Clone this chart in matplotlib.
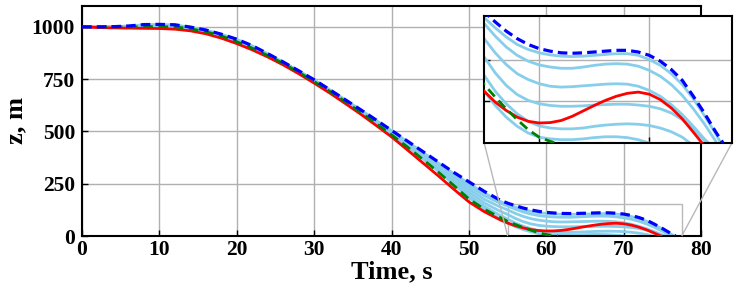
import numpy as np
import matplotlib
matplotlib.use("Agg")
import matplotlib.pyplot as plt
from mpl_toolkits.axes_grid1.inset_locator import mark_inset

plt.rcParams['font.family'] = ['Liberation Serif', 'DejaVu Serif']
plt.rcParams['font.weight'] = 'bold'

# ---- data -------------------------------------------------------------
T_MAIN = [0, 2, 4, 6, 8, 10, 12, 14, 16, 18, 20, 22, 24, 26, 28, 30,
          32, 34, 36, 38, 40, 42, 44, 46, 48, 50, 52, 54]
T_TAIL = [55, 56, 57, 58, 59, 60, 61, 62, 63, 64, 65, 66, 67, 68, 69, 70,
          71, 72, 73, 74, 75, 76]

# upper bound (blue dashed)
upper_main = [1000, 1000, 1001, 1004, 1011, 1012, 1010, 999, 985, 965, 941, 910,
              872, 832, 790, 747, 700, 652, 604, 555, 505, 455, 405, 355, 305,
              259, 213, 172]
upper_tail = [157, 145, 134, 125, 118, 113, 110, 108, 107.5, 108, 109, 110, 111,
              111, 109, 105, 98, 88, 75, 56, 36, 14]
upper_end = 76.7

# lower reference (green dashed)
green_main = [1000, 1000, 1000, 1000, 1001, 1001, 1000, 991, 977, 957, 929, 898,
              863, 825, 783, 738, 692, 643, 592, 539, 484, 427, 368, 307, 243,
              177, 128, 89]
green_tail = [70, 55, 41, 28, 16, 7, 2]
green_end = 61.5

# red solid
red_main = [1000, 997, 995, 994, 993, 992, 989, 981, 967, 946, 920, 890, 856,
            818, 776, 731, 684, 634, 583, 529, 474, 413, 351, 289, 225, 163,
            116, 78]
red_tail = [62, 49, 39, 31, 26, 24, 24.5, 27, 32, 38.5, 45, 51, 56, 59.5, 61,
            58.5, 52, 42, 29, 13]
red_end = 74.8

# light blue family (top to bottom)
lb_main = [
    [1000, 1000, 1001, 1004, 1010, 1011, 1009, 998, 984, 964, 940, 909, 871, 831,
     789, 746, 699, 651, 603, 553, 503, 452, 401, 350, 299, 251, 205, 166],
    [1000, 1000, 1001, 1003, 1008, 1009, 1008, 997, 983, 963, 938, 907, 870, 830,
     788, 745, 698, 650, 601, 551, 500, 448, 396, 343, 290, 239, 192, 158],
    [1000, 1000, 1001, 1002, 1007, 1007, 1006, 996, 982, 962, 936, 905, 868, 829,
     787, 743, 697, 648, 599, 548, 496, 443, 389, 335, 279, 225, 175, 140],
    [1000, 1000, 1000, 1002, 1005, 1005, 1004, 994, 980, 960, 934, 903, 867, 828,
     786, 742, 695, 647, 597, 545, 492, 438, 383, 326, 268, 210, 158, 119],
    [1000, 1000, 1000, 1001, 1003, 1003, 1002, 993, 979, 959, 932, 901, 865, 827,
     785, 740, 694, 645, 595, 543, 489, 433, 376, 318, 257, 195, 142, 99],
    [1000, 1000, 1000, 1000, 1002, 1002, 1001, 992, 978, 958, 930, 899, 864, 826,
     784, 739, 693, 644, 593, 540, 486, 429, 371, 311, 248, 184, 130, 82],
]
lb_tail = [
    [150, 138, 127, 118, 112, 108, 105.5, 104, 103.5, 104, 105, 106, 107, 107,
     105, 100, 93, 83, 70, 53, 33, 12],
    [143, 128, 115, 105, 98, 93.5, 91, 89.5, 89.5, 91, 93, 94.5, 95, 94.5, 92,
     87, 80, 70, 57, 41, 23, 3],
    [125, 108, 94, 83, 76, 71, 68, 67, 67.5, 68.5, 69.5, 70.5, 71, 70.5, 68,
     63, 56, 46, 34, 20, 5],
    [103, 84, 69, 58, 51, 47, 45, 44, 44, 44.5, 45.5, 46, 46.5, 46.5, 45.5, 44,
     41, 36, 28, 17, 3],
    [81, 62, 47, 35, 26, 20.5, 18, 17, 17, 18, 20, 21.5, 22.5, 23, 22.5, 21,
     18, 13.5, 7],
    [62, 45, 31, 20, 12, 7, 5, 4, 4, 5, 6.5, 7.5, 7.5, 6.5, 4],
]
lb_end = [76.5, 76.1, 75.4, 75.15, 73.7, 70.0]

X_TICKS = [0, 10, 20, 30, 40, 50, 60, 70, 80]
Y_TICKS = [0, 250, 500, 750, 1000]


def series(zmain, ztail, tend):
    t = T_MAIN + T_TAIL[:len(ztail)] + [tend]
    z = zmain + ztail + [0]
    return t, z


fig = plt.figure(figsize=(7.37, 2.98), dpi=100)
ax = fig.add_axes([0.1113, 0.208, 0.8400, 0.772])
axins = fig.add_axes([0.657, 0.520, 0.336, 0.426])

LB = '#87CEEB'


def draw(a):
    for zm, zt, te in zip(lb_main, lb_tail, lb_end):
        t, z = series(zm, zt, te)
        a.plot(t, z, color=LB, lw=2.0, zorder=2)
    t, z = series(red_main, red_tail, red_end)
    a.plot(t, z, color='red', lw=2.0, zorder=3)
    t, z = series(green_main, green_tail, green_end)
    a.plot(t, z, color='green', lw=2.0, ls=(0, (3.5, 2.0)), zorder=4)
    t, z = series(upper_main, upper_tail, upper_end)
    a.plot(t, z, color='blue', lw=2.3, ls=(0, (3.0, 1.6)), zorder=5)


draw(ax)
ax.set_xlim(0, 80)
ax.set_ylim(0, 1100)
ax.set_xticks(X_TICKS)
ax.set_yticks(Y_TICKS)
ax.grid(True, color='#b0b0b0', lw=1.0)
ax.set_axisbelow(True)
ax.tick_params(axis='x', direction='in', length=4, width=1, labelsize=15.5, pad=3)
ax.tick_params(axis='y', direction='in', length=4, width=1, labelsize=15.5, pad=5)
for lab in ax.get_xticklabels() + ax.get_yticklabels():
    lab.set_fontweight('bold')
for s in ax.spines.values():
    s.set_linewidth(1.5)
ax.set_xlabel('Time, s', fontsize=19, fontweight='bold', labelpad=0)
ax.set_ylabel('z, m', fontsize=19, fontweight='bold', labelpad=3)

draw(axins)
axins.set_xlim(55, 77.5)
axins.set_ylim(0, 152)
axins.set_xticks([60, 70])
axins.set_yticks([50, 100])
axins.set_xticklabels([])
axins.set_yticklabels([])
axins.grid(True, color='#b0b0b0', lw=1.0)
axins.set_axisbelow(True)
axins.tick_params(direction='in', length=4, width=1)
for s in axins.spines.values():
    s.set_linewidth(1.5)

mark_inset(ax, axins, loc1=3, loc2=4, fc='none', ec='0.72', lw=1.0)

fig.savefig('out.png', dpi=100)
